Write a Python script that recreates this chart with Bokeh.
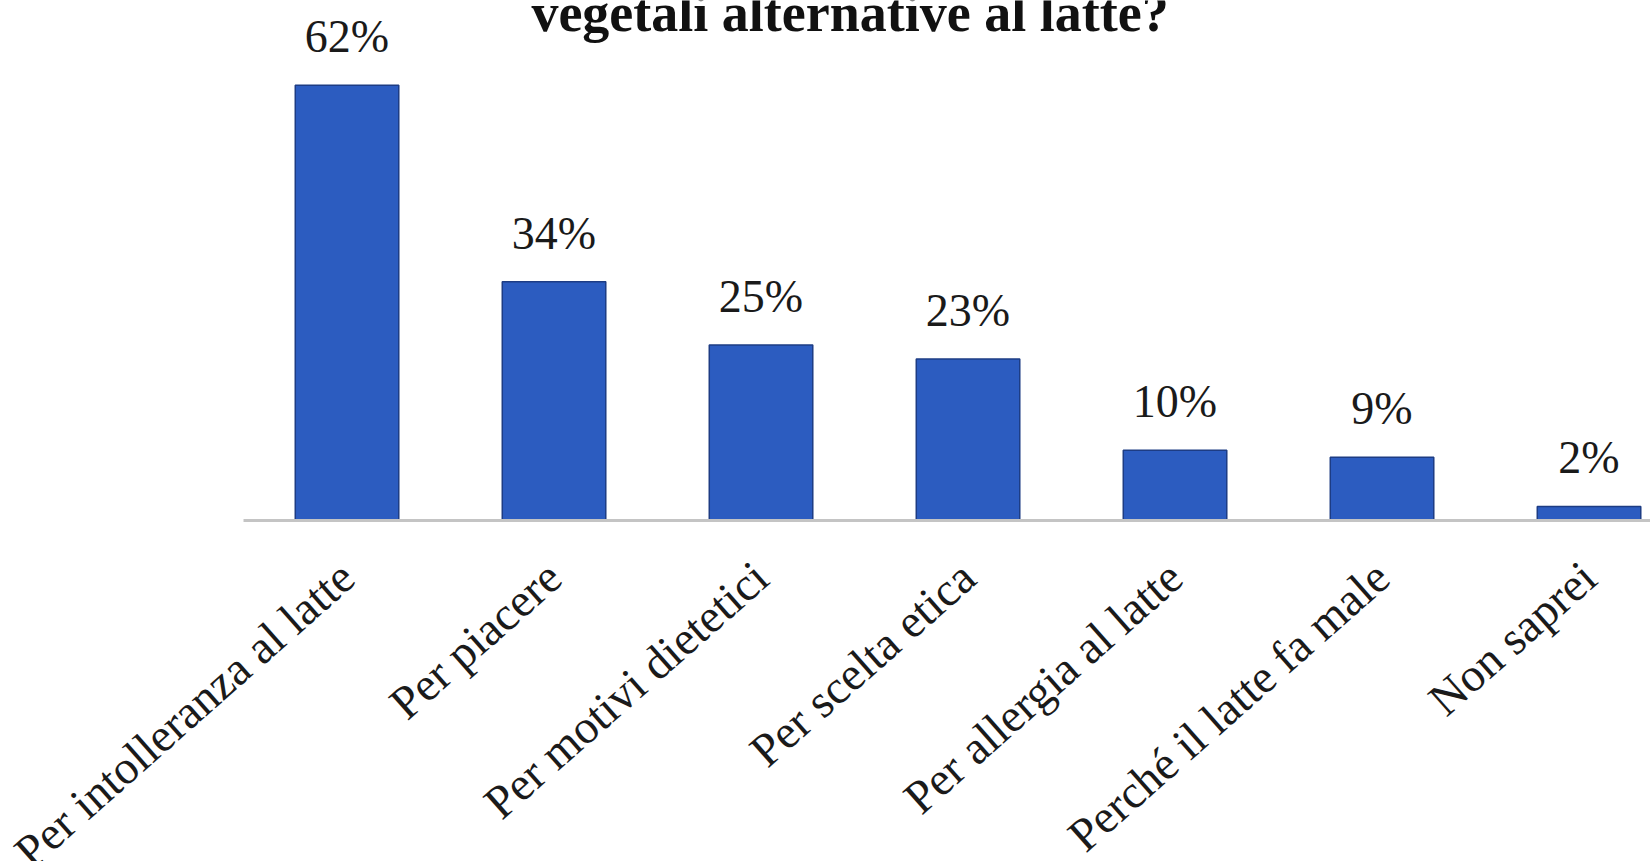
import math
from bokeh.plotting import figure
from bokeh.models import Range1d, Label, ColumnDataSource
from bokeh.core.properties import value
from bokeh.embed import file_html
from bokeh.resources import INLINE

# ---- data ----
categories = [
    "Per intolleranza al latte",
    "Per piacere",
    "Per motivi dietetici",
    "Per scelta etica",
    "Per allergia al latte",
    "Perché il latte fa male",
    "Non saprei",
]
percentages = [62, 34, 25, 23, 10, 9, 2]
value_labels = ["62%", "34%", "25%", "23%", "10%", "9%", "2%"]
title_text = "vegetali alternative al latte?"

positions = list(range(len(categories)))
n = len(categories)

src = ColumnDataSource(dict(
    x=positions,
    top=percentages,
    cat=categories,
    lab=value_labels,
    lab_y=[v + 6.9 for v in percentages],
    cat_y=[-7.1] * n,
))

p = figure(
    width=1650, height=861,
    x_range=Range1d(-1.674, 6.297),
    y_range=Range1d(-48.58, 74.07),
    output_backend="svg",
    toolbar_location=None,
    x_axis_location=None, y_axis_location=None,
    min_border_left=0, min_border_right=0,
    min_border_top=0, min_border_bottom=0,
)
p.outline_line_color = None
p.xgrid.visible = False
p.ygrid.visible = False
p.background_fill_color = "white"
p.border_fill_color = "white"

# bars
p.vbar(x="x", top="top", bottom=0, width=0.5, source=src,
       fill_color="#2c5cc0", line_color="#1d3c84", line_width=1.5)

# category axis line
p.segment(x0=-0.5, x1=n - 0.5, y0=0, y1=0, line_color="#c4c4c4", line_width=3)

# value labels
p.text(x="x", y="lab_y", text="lab", source=src,
       text_font=value("Liberation Serif"), text_font_size="46px",
       text_color="#1a1a1a", text_align="center", text_baseline="alphabetic")

# category labels (rotated)
p.text(x="x", y="cat_y", text="cat", source=src,
       angle=math.radians(41.5),
       text_font=value("Liberation Serif"), text_font_size="47px",
       text_color="#1a1a1a", text_align="right", text_baseline="middle")

# title (only its last line is visible in the reference)
p.add_layout(Label(x=2.43, y=72.3, text=title_text,
                   text_font="Liberation Serif", text_font_style="bold",
                   text_font_size="54px", text_color="#111111",
                   text_align="center", text_baseline="alphabetic"))

open("out.html", "w").write(file_html(p, INLINE))
